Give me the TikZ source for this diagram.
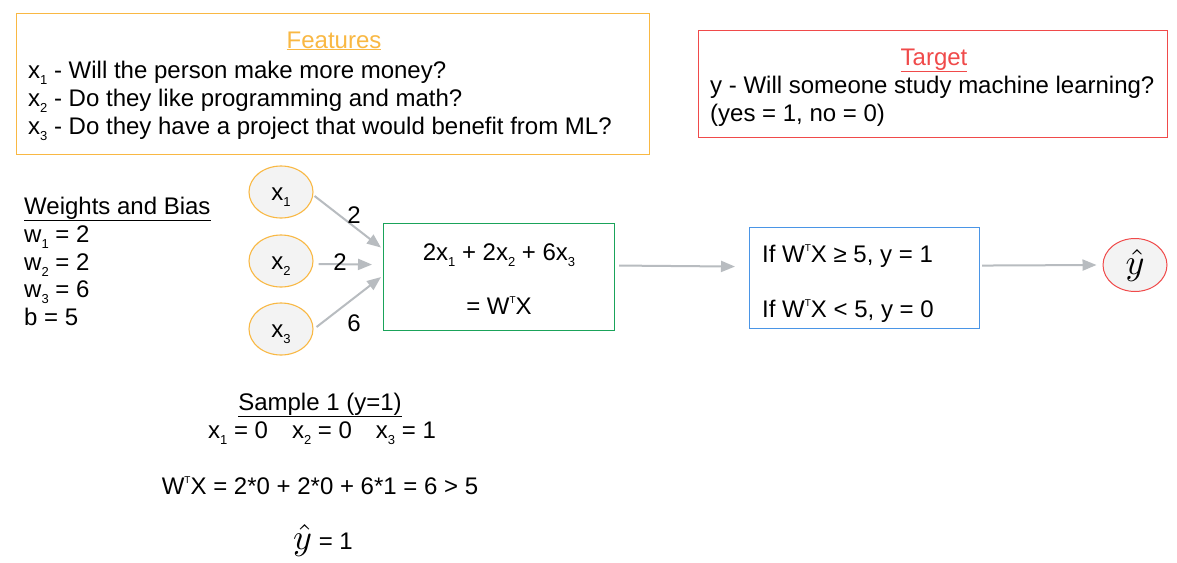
\documentclass[tikz,border=0pt]{standalone}
\usepackage{fontspec}
\setmainfont{Liberation Sans}
\usetikzlibrary{arrows.meta,shapes.geometric}
\definecolor{forange}{HTML}{F9B843}
\definecolor{tred}{HTML}{F04A4A}
\definecolor{bgreen}{HTML}{1AA35A}
\definecolor{bblue}{HTML}{4A95E6}
\definecolor{agray}{HTML}{B8BCC0}
\definecolor{cfill}{HTML}{F3F3F3}
\newcommand\lo[1]{\raisebox{-0.55ex}{\fontsize{13}{13}\selectfont #1}}
\newcommand\tup{\raisebox{0.85ex}{\fontsize{10}{10}\selectfont T}}
\newcommand\hy{{\fontsize{10}{12}\selectfont\scalebox{3.6}{$\hat{y}$}}}
\begin{document}
\begin{tikzpicture}[x=1pt,y=-1pt,
  txt/.style={inner sep=0pt, font=\fontsize{24}{28}\selectfont},
  boxed/.style={draw, line width=1.1pt, anchor=north west, inner sep=0pt},
  inp/.style={ellipse, draw=forange, fill=cfill, line width=1.1pt, minimum width=64pt, minimum height=52pt, inner sep=0pt, font=\fontsize{24}{28}\selectfont, text height=16pt, text depth=0pt},
  arr/.style={draw=agray, line width=2pt, -{Triangle[length=14pt,width=11pt]}},
]
\fill[white] (0,0) rectangle (1177,562);
\useasboundingbox (0,0) rectangle (1177,562);

% Features box
\node[boxed, draw=forange, minimum width=633pt, minimum height=141pt] (feat) at (16,13) {};
\node[txt, anchor=base, text=forange] (ftitle) at (334,48) {\underline{Features}};
\node[txt, anchor=base west] (f1) at (28,78) {x\lo{1} - Will the person make more money?};
\node[txt, anchor=base west] (f2) at (28,106) {x\lo{2} - Do they like programming and math?};
\node[txt, anchor=base west] (f3) at (28,134) {x\lo{3} - Do they have a project that would benefit from ML?};

% Target box
\node[boxed, draw=tred, minimum width=469pt, minimum height=107pt] (targ) at (698,30) {};
\node[txt, anchor=base, text=tred] (ttitle) at (934,65) {\underline{Target}};
\node[txt, anchor=base west] (t1) at (710,93) {y - Will someone study machine learning?};
\node[txt, anchor=base west] (t2) at (710,121) {(yes = 1, no = 0)};

% Weights and bias
\node[txt, anchor=base west] (wt) at (24,214) {\underline{Weights and Bias}};
\node[txt, anchor=base west] (w1) at (24,242) {w\lo{1} = 2};
\node[txt, anchor=base west] (w2) at (24,270) {w\lo{2} = 2};
\node[txt, anchor=base west] (w3) at (24,297) {w\lo{3} = 6};
\node[txt, anchor=base west] (bb) at (24,325) {b = 5};

% inputs
\node[inp] (x1) at (281,192) {x\lo{1}};
\node[inp] (x2) at (281,261) {x\lo{2}};
\node[inp] (x3) at (281,329) {x\lo{3}};

% sum box
\node[boxed, draw=bgreen, minimum width=231pt, minimum height=107pt] (sum) at (383,223) {};
\node[txt, anchor=base] (s1) at (499,260) {2x\lo{1} + 2x\lo{2} + 6x\lo{3}};
\node[txt, anchor=base] (s2) at (499,314) {= W\tup X};

% activation box
\node[boxed, draw=bblue, minimum width=230pt, minimum height=101pt] (act) at (749,227) {};
\node[txt, anchor=base west] (a1) at (762,262) {If W\tup X ≥ 5, y = 1};
\node[txt, anchor=base west] (a2) at (762,317) {If W\tup X < 5, y = 0};

% output
\node[ellipse, draw=tred, fill=cfill, line width=1pt, minimum width=64pt, minimum height=53pt, inner sep=0pt] (yh) at (1135,265) {\hy};

% arrows
\draw[arr] ([xshift=1pt,yshift=-4pt]x1.east) -- ([xshift=-2pt,yshift=29.5pt]sum.west);
\draw[arr] ([xshift=5pt,yshift=-3pt]x2.east) -- ([xshift=-11pt,yshift=12.5pt]sum.west);
\draw[arr] ([xshift=3pt,yshift=2pt]x3.east) -- ([xshift=-2pt,yshift=0pt]sum.west);
\draw[arr] ([xshift=4pt,yshift=11.5pt]sum.east) -- ([xshift=-14pt,yshift=11.5pt]act.west);
\draw[arr] ([xshift=2pt,yshift=12.5pt]act.east) -- ([xshift=-6pt]yh.west);

\node[txt, anchor=base] (l1) at (354,223) {2};
\node[txt, anchor=base] (l2) at (340,270) {2};
\node[txt, anchor=base] (l3) at (354,331) {6};

% sample
\node[txt, anchor=base] (sm) at (320,410) {\underline{Sample 1 (y=1)}};
\node[txt, anchor=base] (sx) at (322,438) {x\lo{1} = 0\quad x\lo{2} = 0\quad x\lo{3} = 1};
\node[txt, anchor=base] (sw) at (320,494) {W\tup X = 2*0 + 2*0 + 6*1 = 6 > 5};
\node[txt, anchor=base] (sy) at (323,549) {\hy\ = 1};
\end{tikzpicture}
\end{document}
